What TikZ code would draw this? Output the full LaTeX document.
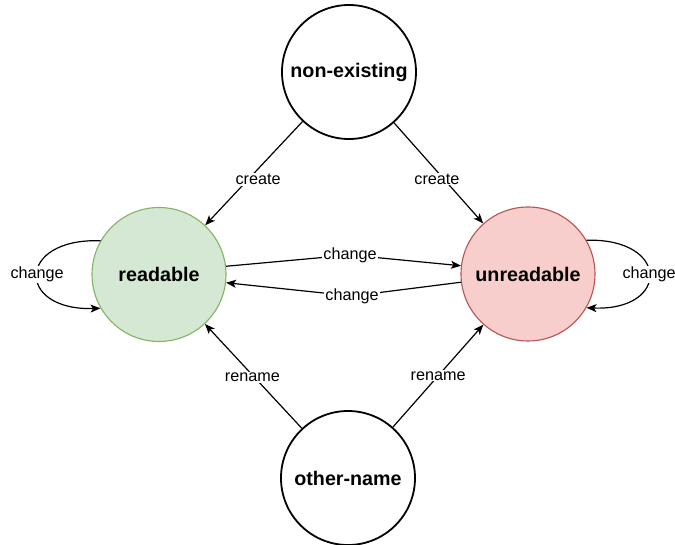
\documentclass[tikz,border=0pt]{standalone}
\usepackage{fontspec}
\setmainfont{Liberation Sans}
\usetikzlibrary{arrows.meta}
\definecolor{greenfill}{HTML}{D5E8D4}
\definecolor{greenline}{HTML}{82B366}
\definecolor{redfill}{HTML}{F8CECC}
\definecolor{redline}{HTML}{B85450}
\tikzset{
  state/.style={circle, minimum size=134pt, inner sep=0pt,
    font=\fontsize{19.7}{23}\selectfont\bfseries},
  plainstate/.style={state, draw=black, line width=1.8pt, fill=white},
  goodstate/.style={state, draw=greenline, line width=1.1pt, fill=greenfill},
  badstate/.style={state, draw=redline, line width=1.1pt, fill=redfill},
  edge/.style={draw=black, line width=1.2pt, -{Stealth[length=10pt,width=8pt,inset=2.5pt]}},
  lbl/.style={fill=white, inner sep=1pt, font=\fontsize{16.2}{19}\selectfont}
}
\begin{document}
\begin{tikzpicture}[x=1pt,y=-1pt]
\useasboundingbox (0,0) rectangle (675,545);
\node[plainstate] (ne) at (349,72) {non-existing};
\node[goodstate] (rd) at (159,274.5) {readable};
\node[badstate] (ur) at (528,274) {unreadable};
\node[plainstate] (on) at (348,478) {other-name};
\coordinate (top) at (350,255);
\coordinate (bot) at (352,296);

\draw[edge] (ne) -- node[lbl, pos=0.56, xshift=10pt] {create} (rd);
\draw[edge] (ne) -- node[lbl, pos=0.56, xshift=-7pt] {create} (ur);
\draw[edge] (on) -- node[lbl, pos=0.49, xshift=-2pt] {rename} (rd);
\draw[edge] (on) -- node[lbl, pos=0.5] {rename} (ur);

\draw[edge] (rd.7) -- (top) node[lbl] {change} -- (ur.173);
\draw[edge] (ur.187) -- (bot) node[lbl] {change} -- (rd.-7);

\draw[edge] (rd.150) .. controls (16,238) and (16,311) .. node[lbl, pos=0.5] {change} (rd.210);
\draw[edge] (ur.30) .. controls (670,238) and (670,311) .. node[lbl, pos=0.5] {change} (ur.-30);
\end{tikzpicture}
\end{document}
